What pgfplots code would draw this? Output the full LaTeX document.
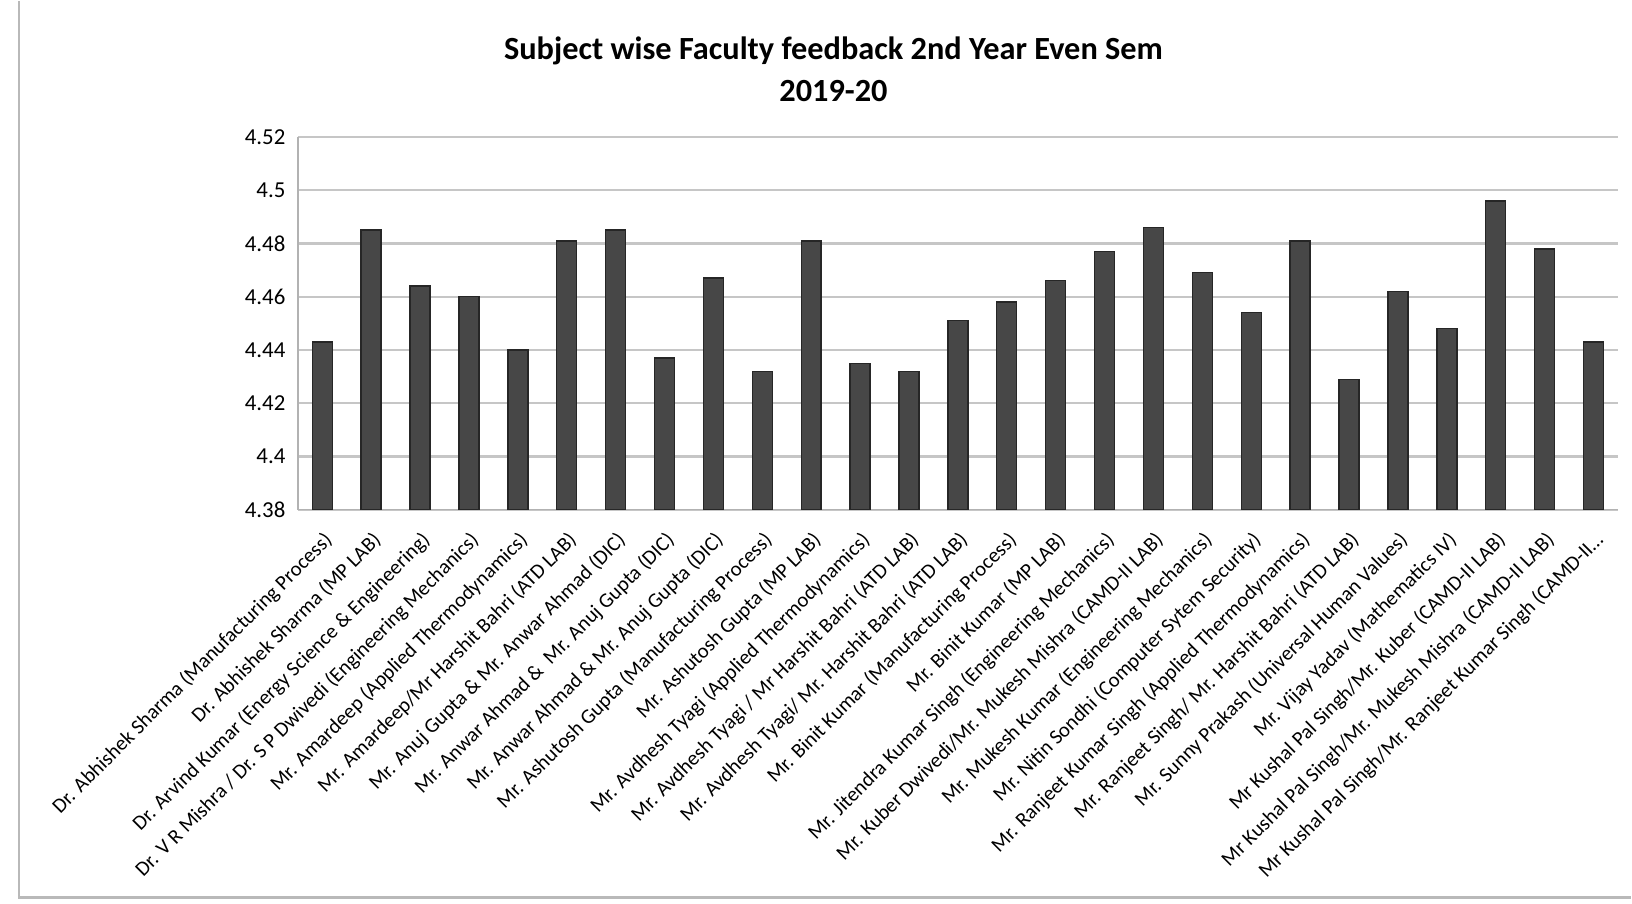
\documentclass[border=0pt]{standalone}
\usepackage{pgfplots}
\pgfplotsset{compat=1.18}
\usepackage{fontspec}
\setmainfont{Carlito}
\begin{document}
\begin{tikzpicture}

% frame of the page, 1 px of the scan = 0.1 mm
\path (-2.98cm,-3.94cm) rectangle (13.34cm,5.09cm);
\draw[gray!55,line width=0.6pt] (-2.79cm,5.09cm) -- (-2.79cm,-3.88cm) -- (13.34cm,-3.88cm);

\node[font=\bfseries\fontsize{9.2}{11}\selectfont,align=center,anchor=center] at (5.36cm,0.68cm+3.73cm) {Subject wise Faculty feedback 2nd Year Even Sem\\[1pt]2019-20};

\begin{axis}[%
width=13.21cm,
height=3.73cm,
scale only axis,
at={(0cm,0cm)},
anchor=south west,
ybar,
bar width=2.0mm,
xmin=-0.5,
xmax=26.5,
ymin=4.38,
ymax=4.52,
ytick={4.38,4.40,4.42,4.44,4.46,4.48,4.50,4.52},
yticklabel style={/pgf/number format/fixed,/pgf/number format/precision=2,font=\fontsize{6.5}{7}\selectfont},
/pgf/number format/assume math mode=true,
ymajorgrids,
grid style={gray!45,line width=0.6pt},
axis x line*=bottom,
axis y line*=left,
axis line style={gray!60},
tick style={draw=none},
xtick=data,
xticklabel style={rotate=45,anchor=north east,font=\fontsize{5.9}{7}\selectfont,inner sep=1pt},
xticklabels={
Dr. Abhishek Sharma (Manufacturing Process),
Dr. Abhishek Sharma (MP LAB),
Dr. Arvind Kumar (Energy Science \& Engineering),
Dr. V R Mishra / Dr. S P Dwivedi (Engineering Mechanics),
Mr. Amardeep (Applied Thermodynamics),
Mr. Amardeep/Mr Harshit Bahri (ATD LAB),
Mr. Anuj Gupta \& Mr. Anwar Ahmad (DIC),
Mr. Anwar Ahmad \&\ \ Mr. Anuj Gupta (DIC),
Mr. Anwar Ahmad \& Mr. Anuj Gupta (DIC),
Mr. Ashutosh Gupta (Manufacturing Process),
Mr. Ashutosh Gupta (MP LAB),
Mr. Avdhesh Tyagi (Applied Thermodynamics),
Mr. Avdhesh Tyagi / Mr Harshit Bahri (ATD LAB),
Mr. Avdhesh Tyagi/ Mr. Harshit Bahri (ATD LAB),
Mr. Binit Kumar (Manufacturing Process),
Mr. Binit Kumar (MP LAB),
Mr. Jitendra Kumar Singh (Engineering Mechanics),
Mr. Kuber Dwivedi/Mr. Mukesh Mishra (CAMD-II LAB),
Mr. Mukesh Kumar (Engineering Mechanics),
Mr. Nitin Sondhi (Computer Sytem Security),
Mr. Ranjeet Kumar Singh (Applied Thermodynamics),
Mr. Ranjeet Singh/ Mr. Harshit Bahri (ATD LAB),
Mr. Sunny Prakash (Universal Human Values),
Mr. Vijay Yadav (Mathematics IV),
Mr Kushal Pal Singh/Mr. Kuber (CAMD-II LAB),
Mr Kushal Pal Singh/Mr. Mukesh Mishra (CAMD-II LAB),
{Mr Kushal Pal Singh/Mr. Ranjeet Kumar Singh (CAMD-II\ldots}
},
]

\addplot[fill=black!72,draw=black!85] coordinates {
(0,4.443) (1,4.485) (2,4.464) (3,4.460) (4,4.440) (5,4.481) (6,4.485)
(7,4.437) (8,4.467) (9,4.432) (10,4.481) (11,4.435) (12,4.432) (13,4.451)
(14,4.458) (15,4.466) (16,4.477) (17,4.486) (18,4.469) (19,4.454) (20,4.481)
(21,4.429) (22,4.462) (23,4.448) (24,4.496) (25,4.478) (26,4.443)
};

\end{axis}

\end{tikzpicture}
\end{document}
